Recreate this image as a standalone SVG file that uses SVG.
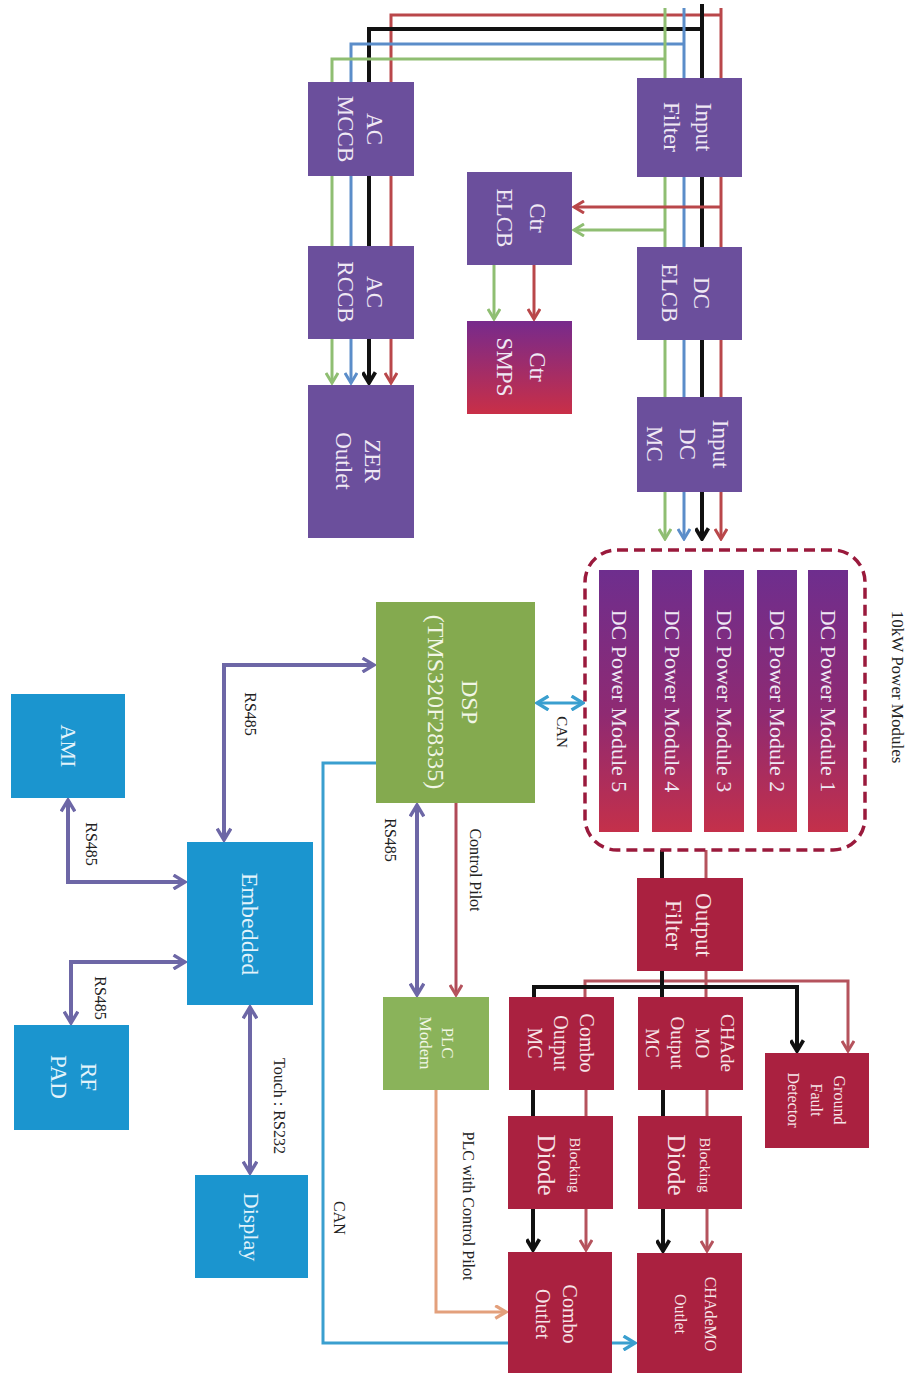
<svg xmlns="http://www.w3.org/2000/svg" width="910" height="1376" viewBox="0 0 910 1376">
<style>
text{font-family:"Liberation Serif","Times New Roman",serif;text-anchor:middle;dominant-baseline:central}
.pu{fill:#6b4f9c}.rd{fill:#aa2140}.bl{fill:#1b95cf}.gn{fill:#84aa4f}.gn2{fill:#8ab35a}
.tw{fill:#efe8f4;font-size:23px}
.tr{fill:#f6e3e7}
.tb{fill:#e2f3fb}
.tg{fill:#f1f6e6}
.lb{fill:#222;font-size:16px}
.w{fill:none;stroke-width:3}
.g{stroke:#8fbe72}.b{stroke:#5b8dc9}.k{stroke:#111;stroke-width:4}.r{stroke:#b9474a}.r2{stroke:#b5535d}
.p{fill:none;stroke:#6d67a6;stroke-width:4}
.c{fill:none;stroke:#3a9fcf;stroke-width:3}
</style>
<defs>
<linearGradient id="pm" x1="0" y1="0" x2="0" y2="1"><stop offset="0" stop-color="#6e2e8e"/><stop offset="0.55" stop-color="#8f2a72"/><stop offset="1" stop-color="#c4304a"/></linearGradient>
<linearGradient id="sm" x1="0" y1="0" x2="0" y2="1"><stop offset="0" stop-color="#772a8c"/><stop offset="1" stop-color="#c92f47"/></linearGradient>
<marker id="aG" viewBox="0 0 14 14" refX="12" refY="7" markerWidth="14" markerHeight="14" markerUnits="userSpaceOnUse" orient="auto-start-reverse"><path d="M2,1 L12,7 L2,13" fill="none" stroke="#8fbe72" stroke-width="3"/></marker>
<marker id="aB" viewBox="0 0 14 14" refX="12" refY="7" markerWidth="14" markerHeight="14" markerUnits="userSpaceOnUse" orient="auto-start-reverse"><path d="M2,1 L12,7 L2,13" fill="none" stroke="#5b8dc9" stroke-width="3"/></marker>
<marker id="aK" viewBox="0 0 14 14" refX="12" refY="7" markerWidth="15" markerHeight="15" markerUnits="userSpaceOnUse" orient="auto-start-reverse"><path d="M2,1 L12,7 L2,13" fill="none" stroke="#111" stroke-width="3.5"/></marker>
<marker id="aR" viewBox="0 0 14 14" refX="12" refY="7" markerWidth="14" markerHeight="14" markerUnits="userSpaceOnUse" orient="auto-start-reverse"><path d="M2,1 L12,7 L2,13" fill="none" stroke="#b9474a" stroke-width="3"/></marker>
<marker id="aR2" viewBox="0 0 14 14" refX="12" refY="7" markerWidth="14" markerHeight="14" markerUnits="userSpaceOnUse" orient="auto-start-reverse"><path d="M2,1 L12,7 L2,13" fill="none" stroke="#b5535d" stroke-width="3"/></marker>
<marker id="aP" viewBox="0 0 14 14" refX="12" refY="7" markerWidth="16" markerHeight="16" markerUnits="userSpaceOnUse" orient="auto-start-reverse"><path d="M2,1 L12,7 L2,13" fill="none" stroke="#6d67a6" stroke-width="3"/></marker>
<marker id="aC" viewBox="0 0 14 14" refX="12" refY="7" markerWidth="16" markerHeight="16" markerUnits="userSpaceOnUse" orient="auto-start-reverse"><path d="M2,1 L12,7 L2,13" fill="none" stroke="#3a9fcf" stroke-width="3"/></marker>
<marker id="aO" viewBox="0 0 14 14" refX="12" refY="7" markerWidth="15" markerHeight="15" markerUnits="userSpaceOnUse" orient="auto-start-reverse"><path d="M2,1 L12,7 L2,13" fill="none" stroke="#e3a07c" stroke-width="3"/></marker>
</defs>
<rect width="910" height="1376" fill="#fff"/>

<g id="connectors">
<path class="w r" d="M721,8 V78 M391,82 V15 H722"/>
<path class="w k" d="M702,4 V78 M369,82 V29 H702"/>
<path class="w b" d="M684,8 V78 M351,82 V44 H684"/>
<path class="w g" d="M665,8 V78 M332,82 V59 H665"/>
<path class="w g" d="M332,176 V246"/><path class="w b" d="M351,176 V246"/><path class="w k" d="M369,176 V246"/><path class="w r" d="M391,176 V246"/>
<path class="w g" d="M332,339 V383" marker-end="url(#aG)"/><path class="w b" d="M351,339 V383" marker-end="url(#aB)"/><path class="w k" d="M369,339 V383" marker-end="url(#aK)"/><path class="w r" d="M391,339 V383" marker-end="url(#aR)"/>
<path class="w g" d="M665,177 V247"/><path class="w b" d="M684,177 V247"/><path class="w k" d="M702,177 V247"/><path class="w r" d="M721,177 V247"/>
<path class="w r" d="M721,207 H574" marker-end="url(#aR)"/>
<path class="w g" d="M665,230 H574" marker-end="url(#aG)"/>
<path class="w g" d="M494,265 V319" marker-end="url(#aG)"/>
<path class="w r" d="M534,265 V319" marker-end="url(#aR)"/>
<path class="w g" d="M665,340 V397"/><path class="w b" d="M684,340 V397"/><path class="w k" d="M702,340 V397"/><path class="w r" d="M721,340 V397"/>
<path class="w g" d="M665,492 V539" marker-end="url(#aG)"/><path class="w b" d="M684,492 V539" marker-end="url(#aB)"/><path class="w k" d="M702,492 V539" marker-end="url(#aK)"/><path class="w r" d="M721,492 V539" marker-end="url(#aR)"/>
<path class="w k" d="M662,850 V878"/><path class="w r2" d="M706,850 V878"/>
<path class="w r2" d="M706,971 V997 M585,997 V981 H848 V1051" marker-end="url(#aR2)"/>
<path class="w k" d="M662,971 V997 M534,997 V987 H797 V1051" marker-end="url(#aK)"/>
<path class="w k" d="M533,1090 V1116"/><path class="w r2" d="M586,1090 V1116"/>
<path class="w k" d="M663,1090 V1116"/><path class="w r2" d="M707,1090 V1116"/>
<path class="w k" d="M533,1209 V1250" marker-end="url(#aK)"/><path class="w r2" d="M586,1209 V1250" marker-end="url(#aR2)"/>
<path class="w k" d="M663,1209 V1251" marker-end="url(#aK)"/><path class="w r2" d="M707,1209 V1251" marker-end="url(#aR2)"/>
<path class="p" d="M224,840 V665 H374" marker-start="url(#aP)" marker-end="url(#aP)"/>
<path class="p" d="M68,800 V882 H185" marker-start="url(#aP)" marker-end="url(#aP)"/>
<path class="p" d="M185,962 H71 V1023" marker-start="url(#aP)" marker-end="url(#aP)"/>
<path class="p" d="M250,1007 V1173" marker-start="url(#aP)" marker-end="url(#aP)"/>
<path class="p" d="M417,805 V995" marker-start="url(#aP)" marker-end="url(#aP)"/>
<path d="M456,803 V995" fill="none" stroke="#b04a58" stroke-width="3" marker-end="url(#aR2)"/>
<path d="M436,1090 V1312 H506" fill="none" stroke="#e3a07c" stroke-width="3" marker-end="url(#aO)"/>
<path class="c" d="M376,763 H323 V1343 H635" marker-end="url(#aC)"/>
<path class="c" d="M537,703 H583" marker-start="url(#aC)" marker-end="url(#aC)"/>
<text class="lb" transform="translate(250,714) rotate(90)">RS485</text>
<text class="lb" transform="translate(91,844) rotate(90)">RS485</text>
<text class="lb" transform="translate(100,998) rotate(90)">RS485</text>
<text class="lb" transform="translate(279,1106) rotate(90)">Touch : RS232</text>
<text class="lb" transform="translate(390,840) rotate(90)">RS485</text>
<text class="lb" transform="translate(475,870) rotate(90)">Control Pilot</text>
<text class="lb" transform="translate(468,1206) rotate(90)">PLC with Control Pilot</text>
<text class="lb" transform="translate(339,1218) rotate(90)">CAN</text>
<text class="lb" style="font-size:15px" transform="translate(562,732) rotate(90)">CAN</text>
</g>

<g id="input-filter"><rect class="pu" x="637" y="78" width="105" height="99"/>
<g transform="translate(688,127) rotate(90)"><text class="tw" y="-15">Input</text><text class="tw" y="17">Filter</text></g></g>
<g id="ac-mccb"><rect class="pu" x="308" y="82" width="106" height="94"/>
<g transform="translate(360,129) rotate(90)"><text class="tw" y="-14">AC</text><text class="tw" y="15">MCCB</text></g></g>
<g id="ctr-elcb"><rect class="pu" x="467" y="172" width="105" height="93"/>
<g transform="translate(520,218) rotate(90)"><text class="tw" y="-17">Ctr</text><text class="tw" y="16">ELCB</text></g></g>
<g id="dc-elcb"><rect class="pu" x="637" y="247" width="105" height="93"/>
<g transform="translate(685,293) rotate(90)"><text class="tw" y="-16">DC</text><text class="tw" y="16">ELCB</text></g></g>
<g id="ac-rccb"><rect class="pu" x="308" y="246" width="106" height="93"/>
<g transform="translate(360,292) rotate(90)"><text class="tw" y="-14">AC</text><text class="tw" y="15">RCCB</text></g></g>
<g id="ctr-smps"><rect fill="url(#sm)" x="467" y="321" width="105" height="93"/>
<g transform="translate(520,367) rotate(90)"><text class="tw" y="-17">Ctr</text><text class="tw" y="16">SMPS</text></g></g>
<g id="zer-outlet"><rect class="pu" x="308" y="385" width="106" height="153"/>
<g transform="translate(358,461) rotate(90)"><text class="tw" y="-14">ZER</text><text class="tw" y="15">Outlet</text></g></g>
<g id="input-dc-mc"><rect class="pu" x="637" y="397" width="105" height="95"/>
<g transform="translate(687,444) rotate(90)"><text class="tw" y="-33">Input</text><text class="tw" y="0">DC</text><text class="tw" y="33">MC</text></g></g>

<g id="power-modules">
<rect x="585" y="550" width="280" height="300" rx="32" fill="none" stroke="#9a1a3c" stroke-width="3.5" stroke-dasharray="11 6"/>
<text class="lb" style="font-size:17px" transform="translate(897,687) rotate(90)">10kW Power Modules</text>
<g id="dc-power-module-5"><rect fill="url(#pm)" x="599" y="570" width="40" height="262"/><text class="tw" style="font-size:22px" transform="translate(619,701) rotate(90)">DC Power Module 5</text></g>
<g id="dc-power-module-4"><rect fill="url(#pm)" x="652" y="570" width="40" height="262"/><text class="tw" style="font-size:22px" transform="translate(672,701) rotate(90)">DC Power Module 4</text></g>
<g id="dc-power-module-3"><rect fill="url(#pm)" x="704" y="570" width="40" height="262"/><text class="tw" style="font-size:22px" transform="translate(724,701) rotate(90)">DC Power Module 3</text></g>
<g id="dc-power-module-2"><rect fill="url(#pm)" x="757" y="570" width="40" height="262"/><text class="tw" style="font-size:22px" transform="translate(777,701) rotate(90)">DC Power Module 2</text></g>
<g id="dc-power-module-1"><rect fill="url(#pm)" x="808" y="570" width="40" height="262"/><text class="tw" style="font-size:22px" transform="translate(828,701) rotate(90)">DC Power Module 1</text></g>
</g>

<g id="dsp"><rect class="gn" x="376" y="602" width="159" height="201"/>
<g transform="translate(453,702) rotate(90)"><text class="tg" style="font-size:24px" y="-17">DSP</text><text class="tg" style="font-size:24px" y="17">(TMS320F28335)</text></g></g>
<g id="plc-modem"><rect class="gn2" x="383" y="997" width="106" height="93"/>
<g transform="translate(436,1043) rotate(90)"><text class="tg" style="font-size:17px" y="-11">PLC</text><text class="tg" style="font-size:17px" y="11">Modem</text></g></g>
<g id="ami"><rect class="bl" x="11" y="694" width="114" height="104"/>
<text class="tb" style="font-size:22px" transform="translate(68,746) rotate(90)">AMI</text></g>
<g id="embedded"><rect class="bl" x="187" y="842" width="126" height="163"/>
<text class="tb" style="font-size:24px" transform="translate(250,924) rotate(90)">Embedded</text></g>
<g id="rf-pad"><rect class="bl" x="14" y="1025" width="115" height="105"/>
<g transform="translate(73,1077) rotate(90)"><text class="tb" style="font-size:23px" y="-15">RF</text><text class="tb" style="font-size:23px" y="15">PAD</text></g></g>
<g id="display"><rect class="bl" x="195" y="1175" width="113" height="103"/>
<text class="tb" style="font-size:22px" transform="translate(251,1227) rotate(90)">Display</text></g>

<g id="output-filter"><rect class="rd" x="637" y="878" width="106" height="93"/>
<g transform="translate(688,925) rotate(90)"><text class="tr" style="font-size:23px" y="-15">Output</text><text class="tr" style="font-size:23px" y="15">Filter</text></g></g>
<g id="combo-output-mc"><rect class="rd" x="509" y="997" width="105" height="93"/>
<g transform="translate(561,1043) rotate(90)"><text class="tr" style="font-size:20px" y="-26">Combo</text><text class="tr" style="font-size:20px" y="0">Output</text><text class="tr" style="font-size:20px" y="26">MC</text></g></g>
<g id="chademo-output-mc"><rect class="rd" x="638" y="997" width="105" height="93"/>
<g transform="translate(690,1043) rotate(90)"><text class="tr" style="font-size:19px" y="-37">CHAde</text><text class="tr" style="font-size:19px" y="-12">MO</text><text class="tr" style="font-size:19px" y="13">Output</text><text class="tr" style="font-size:19px" y="38">MC</text></g></g>
<g id="ground-fault-detector"><rect class="rd" x="765" y="1053" width="104" height="95"/>
<g transform="translate(816,1100) rotate(90)"><text class="tr" style="font-size:16px" y="-23">Ground</text><text class="tr" style="font-size:16px" y="0">Fault</text><text class="tr" style="font-size:16px" y="23">Detector</text></g></g>
<g id="blocking-diode-combo"><rect class="rd" x="508" y="1116" width="105" height="93"/>
<g transform="translate(560,1165) rotate(90)"><text class="tr" style="font-size:15px" y="-15">Blocking</text><text class="tr" style="font-size:25px" y="14">Diode</text></g></g>
<g id="blocking-diode-chademo"><rect class="rd" x="638" y="1116" width="104" height="93"/>
<g transform="translate(690,1165) rotate(90)"><text class="tr" style="font-size:15px" y="-15">Blocking</text><text class="tr" style="font-size:25px" y="14">Diode</text></g></g>
<g id="combo-outlet"><rect class="rd" x="508" y="1252" width="104" height="121"/>
<g transform="translate(557,1314) rotate(90)"><text class="tr" style="font-size:20px" y="-13">Combo</text><text class="tr" style="font-size:20px" y="14">Outlet</text></g></g>
<g id="chademo-outlet"><rect class="rd" x="637" y="1253" width="105" height="120"/>
<g transform="translate(695,1314) rotate(90)"><text class="tr" style="font-size:16px" y="-15">CHAdeMO</text><text class="tr" style="font-size:16px" y="15">Outlet</text></g></g>
</svg>
